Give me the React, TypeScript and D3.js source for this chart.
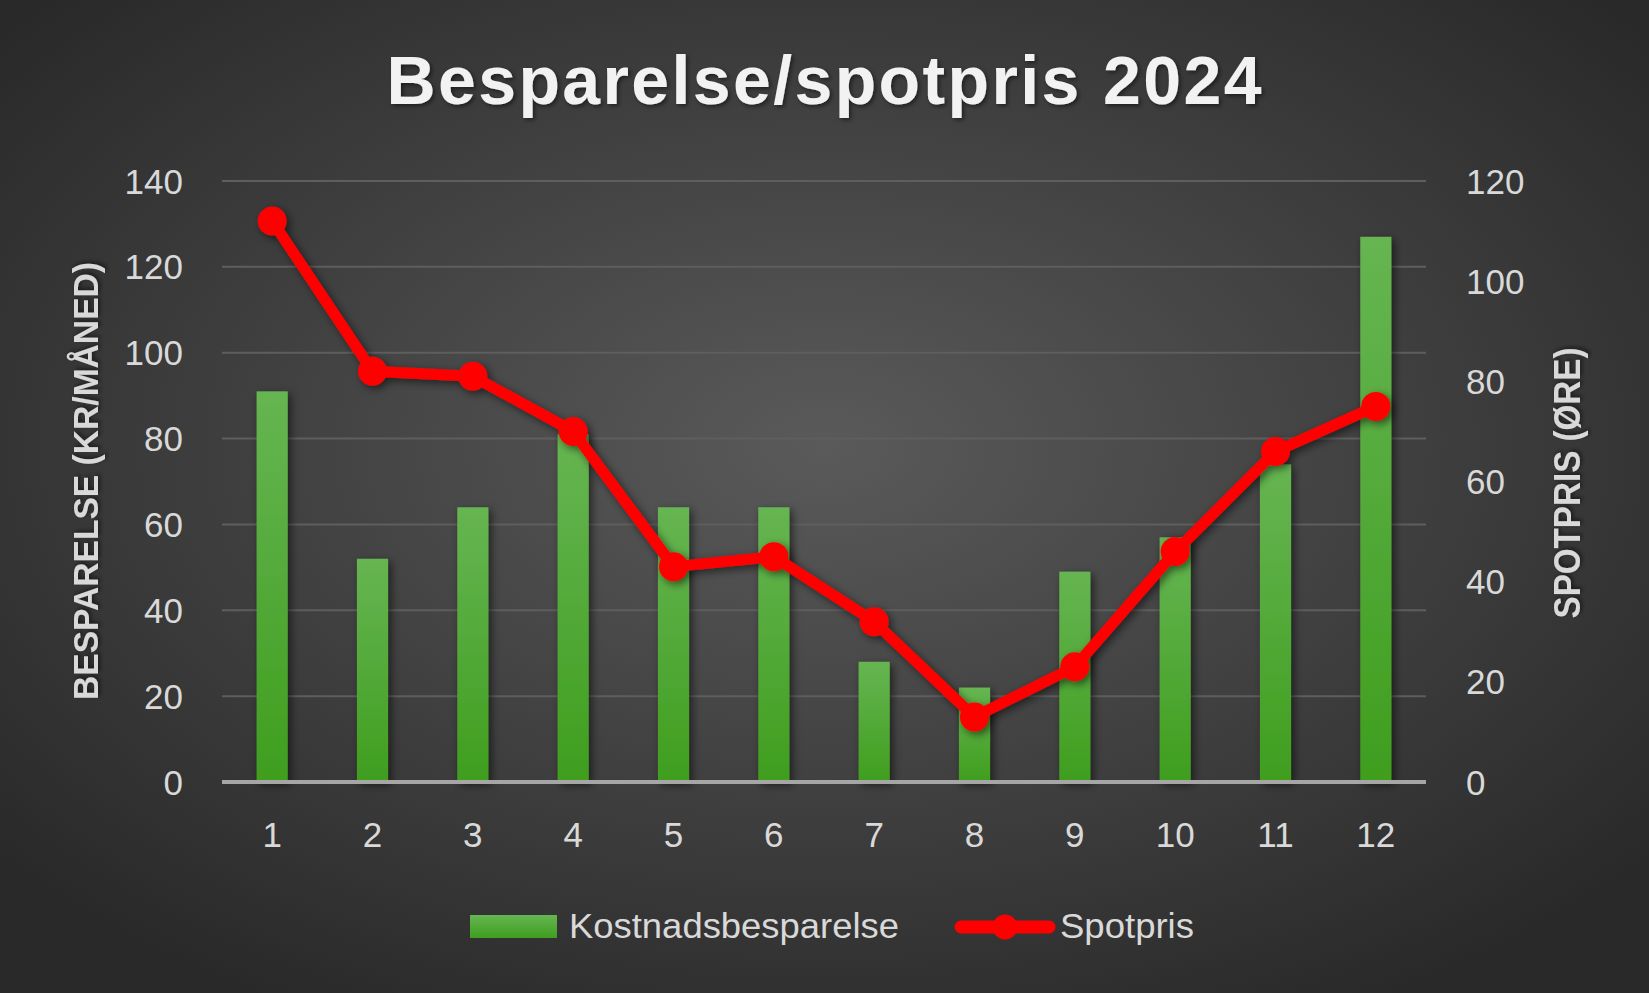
import { useEffect, useRef } from 'react'
import * as d3 from 'd3'

const months = ['1', '2', '3', '4', '5', '6', '7', '8', '9', '10', '11', '12']
const besparelse = [91, 52, 64, 81, 64, 64, 28, 22, 49, 57, 74, 127]
const spotpris = [112, 82, 81, 70, 43, 45, 32, 13, 23, 46, 66, 75]
const leftTicks = [0, 20, 40, 60, 80, 100, 120, 140]
const rightTicks = [0, 20, 40, 60, 80, 100, 120]

const W = 1649
const H = 993
const TEXT = '#d9d9d9'
const FONT = '"Liberation Sans", Arial, sans-serif'

export default function App() {
  const ref = useRef<SVGSVGElement>(null)

  useEffect(() => {
    if (!ref.current) return
    document.body.style.margin = '0'
    const svg = d3.select(ref.current)
    svg.selectAll('*').remove()
    svg.attr('width', W).attr('height', H).attr('viewBox', `0 0 ${W} ${H}`)

    const defs = svg.append('defs')
    const bg = defs.append('radialGradient').attr('id', 'bg')
      .attr('cx', '50%').attr('cy', '45%').attr('r', '65%')
    bg.append('stop').attr('offset', '0%').attr('stop-color', '#5a5a5a')
    bg.append('stop').attr('offset', '100%').attr('stop-color', '#292929')

    const barGrad = defs.append('linearGradient').attr('id', 'bar')
      .attr('x1', 0).attr('y1', 0).attr('x2', 0).attr('y2', 1)
    barGrad.append('stop').attr('offset', '0%').attr('stop-color', '#66b552')
    barGrad.append('stop').attr('offset', '100%').attr('stop-color', '#3f9e1e')

    const shadow = defs.append('filter').attr('id', 'shadow')
      .attr('x', '-20%').attr('y', '-20%').attr('width', '140%').attr('height', '140%')
    shadow.append('feDropShadow').attr('dx', 3).attr('dy', 3)
      .attr('stdDeviation', 4).attr('flood-color', '#000').attr('flood-opacity', 0.55)

    const textShadow = defs.append('filter').attr('id', 'tshadow')
    textShadow.append('feDropShadow').attr('dx', 2).attr('dy', 2)
      .attr('stdDeviation', 2).attr('flood-color', '#000').attr('flood-opacity', 0.5)

    svg.append('rect').attr('width', W).attr('height', H).attr('fill', 'url(#bg)')

    const left = 222
    const right = 1426
    const top = 181
    const bottom = 782

    // Scales
    const x = d3.scaleBand<string>().domain(months).range([left, right])
      .paddingInner(0.69).paddingOuter(0.345)
    const yL = d3.scaleLinear().domain([0, 140]).range([bottom, top])
    const yR = d3.scaleLinear().domain([0, 120]).range([bottom, top])

    // Title
    svg.append('text')
      .attr('x', (left + right) / 2).attr('y', 104)
      .attr('text-anchor', 'middle')
      .attr('font-family', FONT)
      .attr('font-weight', 700)
      .attr('font-size', 68)
      .attr('fill', '#f2f2f2')
      .attr('textLength', 875)
      .attr('lengthAdjust', 'spacing')
      .attr('filter', 'url(#tshadow)')
      .text('Besparelse/spotpris 2024')

    // Gridlines
    svg.append('g').selectAll('line')
      .data(leftTicks.filter(t => t > 0))
      .join('line')
      .attr('x1', left).attr('x2', right)
      .attr('y1', d => yL(d)).attr('y2', d => yL(d))
      .attr('stroke', '#5e5e5e').attr('stroke-width', 2)

    // Bars
    svg.append('g').attr('filter', 'url(#shadow)')
      .selectAll('rect')
      .data(besparelse)
      .join('rect')
      .attr('x', (_, i) => x(months[i])!)
      .attr('y', d => yL(d))
      .attr('width', x.bandwidth())
      .attr('height', d => bottom - yL(d))
      .attr('fill', 'url(#bar)')

    // Axis baseline
    svg.append('line')
      .attr('x1', left).attr('x2', right)
      .attr('y1', bottom).attr('y2', bottom)
      .attr('stroke', '#a6a6a6').attr('stroke-width', 4)

    // Line + markers
    const cx = (i: number) => x(months[i])! + x.bandwidth() / 2
    const line = d3.line<number>().x((_, i) => cx(i)).y(d => yR(d))
    const lg = svg.append('g').attr('filter', 'url(#shadow)')
    lg.append('path')
      .attr('d', line(spotpris))
      .attr('fill', 'none')
      .attr('stroke', '#ff0000')
      .attr('stroke-width', 11)
      .attr('stroke-linejoin', 'round')
    lg.selectAll('circle')
      .data(spotpris)
      .join('circle')
      .attr('cx', (_, i) => cx(i))
      .attr('cy', d => yR(d))
      .attr('r', 14.5)
      .attr('fill', '#ff0000')

    // Axis labels
    svg.append('g').selectAll('text')
      .data(leftTicks)
      .join('text')
      .attr('x', 183).attr('y', d => yL(d))
      .attr('dy', '0.36em')
      .attr('text-anchor', 'end')
      .attr('font-family', FONT).attr('font-size', 35).attr('fill', TEXT)
      .text(d => d)

    svg.append('g').selectAll('text')
      .data(rightTicks)
      .join('text')
      .attr('x', 1466).attr('y', d => yR(d))
      .attr('dy', '0.36em')
      .attr('text-anchor', 'start')
      .attr('font-family', FONT).attr('font-size', 35).attr('fill', TEXT)
      .text(d => d)

    svg.append('g').selectAll('text')
      .data(months)
      .join('text')
      .attr('x', d => x(d)! + x.bandwidth() / 2).attr('y', 847)
      .attr('text-anchor', 'middle')
      .attr('font-family', FONT).attr('font-size', 35).attr('fill', TEXT)
      .text(d => d)

    // Axis titles
    svg.append('text')
      .attr('transform', 'translate(98,481) rotate(-90)')
      .attr('text-anchor', 'middle')
      .attr('font-family', FONT).attr('font-weight', 700).attr('font-size', 35)
      .attr('fill', TEXT)
      .attr('textLength', 438).attr('lengthAdjust', 'spacingAndGlyphs')
      .attr('filter', 'url(#tshadow)')
      .text('BESPARELSE (KR/MÅNED)')

    svg.append('text')
      .attr('transform', 'translate(1580,483) rotate(-90)')
      .attr('text-anchor', 'middle')
      .attr('font-family', FONT).attr('font-weight', 700).attr('font-size', 36)
      .attr('fill', TEXT)
      .attr('textLength', 271).attr('lengthAdjust', 'spacingAndGlyphs')
      .attr('filter', 'url(#tshadow)')
      .text('SPOTPRIS (ØRE)')

    // Legend
    const legend = svg.append('g')
    legend.append('rect')
      .attr('x', 470).attr('y', 915).attr('width', 87).attr('height', 23)
      .attr('fill', 'url(#bar)')
    legend.append('text')
      .attr('x', 569).attr('y', 938)
      .attr('font-family', FONT).attr('font-size', 35).attr('fill', TEXT)
      .attr('textLength', 330).attr('lengthAdjust', 'spacingAndGlyphs')
      .text('Kostnadsbesparelse')
    legend.append('line')
      .attr('x1', 961).attr('x2', 1049).attr('y1', 927).attr('y2', 927)
      .attr('stroke', '#ff0000').attr('stroke-width', 13).attr('stroke-linecap', 'round')
    legend.append('circle')
      .attr('cx', 1005).attr('cy', 927).attr('r', 12.5).attr('fill', '#ff0000')
    legend.append('text')
      .attr('x', 1060).attr('y', 938)
      .attr('font-family', FONT).attr('font-size', 35).attr('fill', TEXT)
      .attr('textLength', 134).attr('lengthAdjust', 'spacingAndGlyphs')
      .text('Spotpris')
  }, [])

  return <svg ref={ref} style={{ display: 'block' }} />
}
